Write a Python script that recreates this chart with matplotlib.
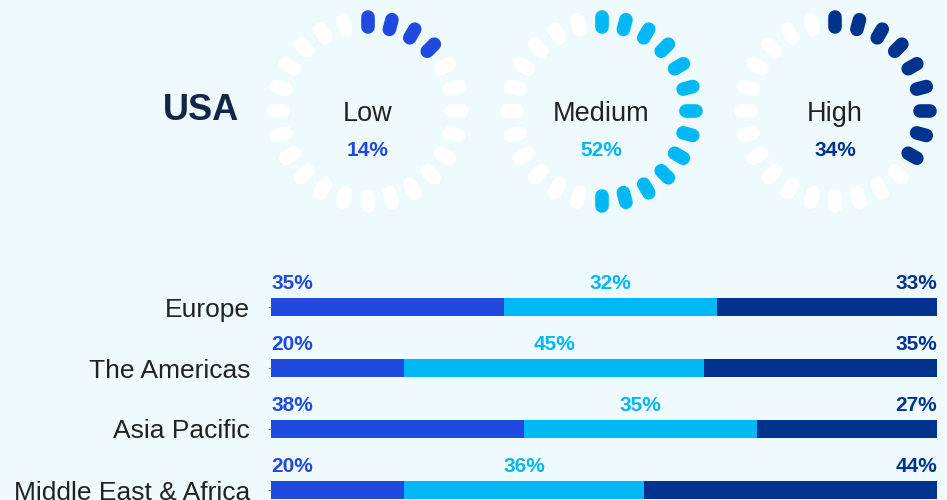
import math
import matplotlib
matplotlib.use("Agg")
from matplotlib import pyplot as plt
import numpy as np

# data
gauge_labels = ['Low', 'Medium', 'High']
usa_values = [14, 52, 34]
regions = ['Europe', 'The Americas', 'Asia Pacific', 'Middle East & Africa']
low = [35, 20, 38, 20]
medium = [32, 45, 35, 36]
high = [33, 35, 27, 44]

bg = '#EEFAFE'
colors = ['#2049E0', '#00B8F3', '#00338D']
plt.rcParams['font.family'] = ['Liberation Sans', 'DejaVu Sans']

W, H = 947, 500
fig = plt.figure(figsize=(W / 100, H / 100), dpi=100)
fig.patch.set_facecolor(bg)

# top part in pixel coords
top = fig.add_axes([0, 0, 1, 1])
top.set_xlim(0, W)
top.set_ylim(H, 0)
top.axis('off')
top.patch.set_alpha(0)

top.text(201, 110, 'USA', fontsize=26, fontweight='bold', color='#13264A',
         ha='center', va='center')

centers = [367.5, 601.5, 835]
cy = 111
n_dash = 24
r_in, r_out = 84.5, 94.5
for cx, lab, val, col in zip(centers, gauge_labels, usa_values, colors):
    n_on = math.ceil(val / 100 * n_dash)
    for i in range(n_dash):
        a = np.deg2rad(90 - i * 360 / n_dash)
        xs = [cx + r_in * np.cos(a), cx + r_out * np.cos(a)]
        ys = [cy - r_in * np.sin(a), cy - r_out * np.sin(a)]
        c = col if i < n_on else 'white'
        top.plot(xs, ys, color=c, lw=9.8, solid_capstyle='round')
    top.text(cx, cy + 3, lab, fontsize=19.5, color='#222222', ha='center', va='center')
    top.text(cx, cy + 40, f'{val}%', fontsize=15, fontweight='bold', color=col,
             ha='center', va='center')

# stacked bars
ax = fig.add_axes([271 / W, 0, 666 / W, 240 / H])
ax.patch.set_alpha(0)
y = np.arange(len(regions))
left = np.zeros(len(regions))
for vals, col in zip([low, medium, high], colors):
    ax.barh(y, vals, left=left, height=0.31, color=col)
    left = left + np.array(vals)
ax.set_xlim(0, 100)
ax.set_ylim((500 - 307) / 61, -(307 - 260) / 61)
for s in ax.spines.values():
    s.set_visible(False)
ax.set_xticks([])
ax.set_yticks(y)
ax.set_yticklabels(regions, fontsize=19, color='#222222')
ax.tick_params(axis='y', length=2, color='#888888', pad=13)

ly = -0.38
for i in range(len(regions)):
    ax.text(0, i + ly, f'{low[i]}%', color=colors[0], fontsize=15, fontweight='bold',
            ha='left', va='center')
    ax.text(low[i] + medium[i] / 2, i + ly, f'{medium[i]}%', color=colors[1],
            fontsize=15, fontweight='bold', ha='center', va='center')
    ax.text(100, i + ly, f'{high[i]}%', color=colors[2], fontsize=15, fontweight='bold',
            ha='right', va='center')

fig.savefig('out.png', dpi=100, facecolor=bg)
